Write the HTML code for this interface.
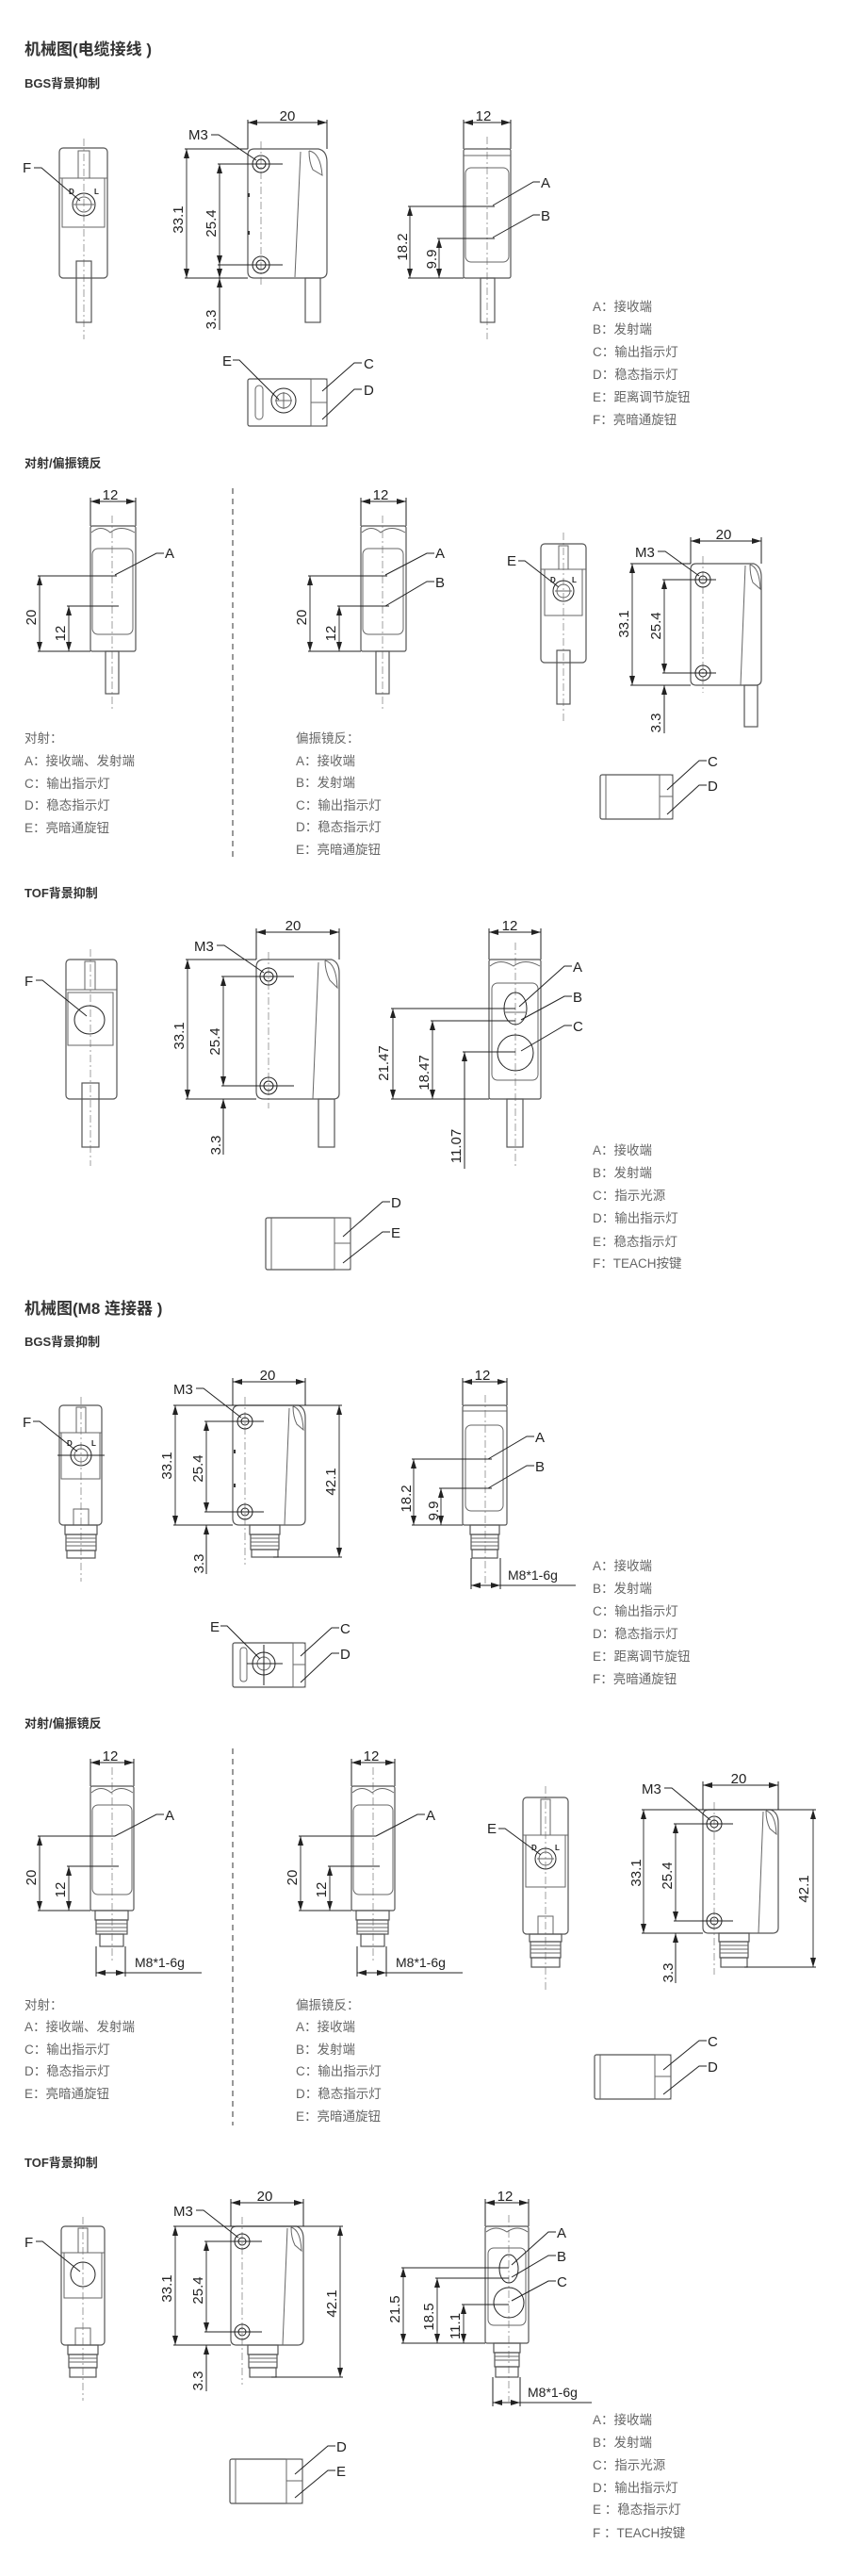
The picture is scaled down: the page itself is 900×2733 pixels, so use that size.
<!DOCTYPE html>
<html><head><meta charset="utf-8"><style>
html,body{margin:0;padding:0;background:#fff}
svg{display:block}
text{font-family:"Liberation Sans","Noto Sans CJK SC",sans-serif;fill:#222}
.t{font-size:17px;font-weight:bold;fill:#333}
.s{font-size:13px;font-weight:bold;fill:#333}
.d{font-size:15px}
.l{font-size:15px}
.g{font-size:13.5px;fill:#666}
.sm{font-size:8px;font-weight:bold}
.o{fill:none;stroke:#555;stroke-width:1.2}
.f{fill:none;stroke:#666;stroke-width:1}
.k{fill:none;stroke:#222;stroke-width:1}
.c{fill:none;stroke:#888;stroke-width:0.8;stroke-dasharray:8 3 2 3}
.dim{fill:none;stroke:#222;stroke-width:0.9;marker-start:url(#ar);marker-end:url(#ar)}
.dv{fill:none;stroke:#555;stroke-width:1.2;stroke-dasharray:6 5}
</style></head><body>
<svg width="900" height="2733" viewBox="0 0 900 2733" xmlns="http://www.w3.org/2000/svg">
<defs>
<marker id="ar" viewBox="0 0 10 6" refX="10" refY="3" markerWidth="10" markerHeight="6" markerUnits="userSpaceOnUse" orient="auto-start-reverse"><path d="M0,0 L10,3 L0,6 z" fill="#222"/></marker>
</defs>

<!-- ============ SECTION 1 ============ -->
<text class="t" x="26" y="58">机械图(电缆接线 )</text>
<text class="s" x="26" y="93">BGS背景抑制</text>

<!-- front view -->
<line class="c" x1="89" y1="147" x2="89" y2="360"/>
<rect class="o" x="63" y="157" width="51" height="138" rx="4"/>
<line class="f" x1="63" y1="189" x2="114" y2="189"/>
<rect class="f" x="83" y="160" width="12" height="29"/>
<rect class="f" x="66" y="189" width="45" height="52"/>
<circle class="k" cx="89" cy="217" r="12"/><circle class="f" cx="89" cy="217" r="8"/>
<line class="f" x1="78" y1="217" x2="100" y2="217"/>
<text class="sm" x="73" y="206">D</text><text class="sm" x="100" y="206">L</text>
<rect class="o" x="81" y="277" width="16" height="65"/>
<text class="l" x="24" y="183">F</text>
<polyline class="k" points="36,178 44,178 85,213"/>

<!-- side view -->
<line class="c" x1="277" y1="150" x2="277" y2="305"/>
<path class="o" d="M270,158 L338,158 Q347,160 347,172 L347,288 Q347,295 340,295 L270,295 Q263,295 263,288 L263,165 Q263,158 270,158 Z"/>
<path class="f" d="M319,161 L313,294"/><path class="f" d="M328,160 Q340,162 342,186 L332,180 Q328,172 328,160"/>
<circle class="k" cx="277" cy="174" r="9"/><circle class="k" cx="277" cy="174" r="5"/>
<circle class="k" cx="277" cy="281" r="9"/><circle class="k" cx="277" cy="281" r="5"/>
<rect x="263" y="205" width="2" height="4" fill="#333"/><rect x="263" y="245" width="2" height="4" fill="#333"/>
<rect class="o" x="324" y="295" width="16" height="47"/>
<line class="k" x1="263" y1="127" x2="263" y2="158"/><line class="k" x1="347" y1="127" x2="347" y2="158"/>
<line class="dim" x1="263" y1="130" x2="347" y2="130"/><text class="d" x="305" y="128" text-anchor="middle">20</text>
<text class="l" x="200" y="148">M3</text><polyline class="k" points="224,143 232,143 272,170"/>
<line class="k" x1="196" y1="158" x2="263" y2="158"/><line class="k" x1="196" y1="295" x2="263" y2="295"/>
<line class="dim" x1="198" y1="158" x2="198" y2="295"/>
<text class="d" transform="translate(194,233) rotate(-90)" text-anchor="middle">33.1</text>
<line class="k" x1="231" y1="174" x2="300" y2="174"/><line class="k" x1="231" y1="281" x2="300" y2="281"/>
<line class="dim" x1="233" y1="174" x2="233" y2="281"/>
<text class="d" transform="translate(229,237) rotate(-90)" text-anchor="middle">25.4</text>
<line class="k" x1="233" y1="295" x2="233" y2="350" marker-start="url(#ar)"/>
<line class="k" x1="233" y1="280" x2="233" y2="295" marker-end="url(#ar)"/>
<text class="d" transform="translate(229,339) rotate(-90)" text-anchor="middle">3.3</text>

<!-- right view -->
<line class="c" x1="517" y1="145" x2="517" y2="360"/>
<rect class="o" x="492" y="158" width="50" height="137" rx="2"/>
<line class="f" x1="492" y1="165" x2="542" y2="165"/>
<rect class="f" x="494" y="178" width="46" height="100" rx="6"/>
<rect class="o" x="510" y="295" width="15" height="47"/>
<line class="k" x1="492" y1="127" x2="492" y2="158"/><line class="k" x1="542" y1="127" x2="542" y2="158"/>
<line class="dim" x1="492" y1="130" x2="542" y2="130"/><text class="d" x="513" y="128" text-anchor="middle">12</text>
<text class="l" x="574" y="199">A</text><polyline class="k" points="573,193 566,193 523,218"/>
<text class="l" x="574" y="234">B</text><polyline class="k" points="573,228 566,228 523,252"/>
<line class="k" x1="433" y1="219" x2="525" y2="219"/><line class="k" x1="464" y1="253" x2="525" y2="253"/>
<line class="k" x1="433" y1="295" x2="492" y2="295"/>
<line class="dim" x1="435" y1="219" x2="435" y2="295"/>
<text class="d" transform="translate(432,262) rotate(-90)" text-anchor="middle">18.2</text>
<line class="dim" x1="466" y1="253" x2="466" y2="295"/>
<text class="d" transform="translate(463,275) rotate(-90)" text-anchor="middle">9.9</text>

<!-- bottom view -->
<rect class="o" x="263" y="402" width="84" height="50" rx="2"/>
<rect class="f" x="271" y="409" width="8" height="36" rx="4"/>
<circle class="k" cx="301" cy="425" r="13"/><circle class="f" cx="301" cy="425" r="8"/>
<line class="f" x1="292" y1="425" x2="310" y2="425"/><line class="f" x1="301" y1="416" x2="301" y2="434"/>
<rect class="f" x="330" y="402" width="17" height="25"/><rect class="f" x="330" y="427" width="17" height="25"/>
<text class="l" x="236" y="388">E</text><polyline class="k" points="247,382 254,382 296,424"/>
<text class="l" x="386" y="391">C</text><polyline class="k" points="384,385 376,385 342,415"/>
<text class="l" x="386" y="419">D</text><polyline class="k" points="384,413 376,413 342,445"/>

<g class="g">
<text class="g" x="629" y="330">A：接收端</text>
<text class="g" x="629" y="354">B：发射端</text>
<text class="g" x="629" y="378">C：输出指示灯</text>
<text class="g" x="629" y="402">D：稳态指示灯</text>
<text class="g" x="629" y="426">E：距离调节旋钮</text>
<text class="g" x="629" y="450">F：亮暗通旋钮</text>
</g>

<!-- ============ SECTION 2 ============ -->
<text class="s" x="26" y="496">对射/偏振镜反</text>
<line class="dv" x1="247" y1="518" x2="247" y2="912"/>

<!-- left view -->
<g>
<line class="c" x1="119" y1="547" x2="119" y2="753"/>
<rect class="o" x="96" y="558" width="48" height="133" rx="2"/>
<path class="f" d="M97,565 Q107,556 117,565 Q128,556 143,565"/>
<rect class="f" x="98" y="582" width="43" height="91" rx="6"/>
<rect class="o" x="112" y="691" width="14" height="45"/>
<line class="k" x1="96" y1="528" x2="96" y2="558"/><line class="k" x1="144" y1="528" x2="144" y2="558"/>
<line class="dim" x1="96" y1="532" x2="144" y2="532"/><text class="d" x="117" y="530" text-anchor="middle">12</text>
<text class="l" x="175" y="592">A</text><polyline class="k" points="174,587 166,587 122,610"/>
<line class="k" x1="40" y1="611" x2="124" y2="611"/><line class="k" x1="71" y1="643" x2="126" y2="643"/>
<line class="k" x1="40" y1="691" x2="96" y2="691"/>
<line class="dim" x1="42" y1="611" x2="42" y2="691"/>
<text class="d" transform="translate(38,655) rotate(-90)" text-anchor="middle">20</text>
<line class="dim" x1="73" y1="643" x2="73" y2="691"/>
<text class="d" transform="translate(69,672) rotate(-90)" text-anchor="middle">12</text>
</g>
<!-- middle view -->
<g transform="translate(287,0)">
<line class="c" x1="119" y1="547" x2="119" y2="753"/>
<rect class="o" x="96" y="558" width="48" height="133" rx="2"/>
<path class="f" d="M97,565 Q107,556 117,565 Q128,556 143,565"/>
<rect class="f" x="98" y="582" width="43" height="91" rx="6"/>
<rect class="o" x="112" y="691" width="14" height="45"/>
<line class="k" x1="96" y1="528" x2="96" y2="558"/><line class="k" x1="144" y1="528" x2="144" y2="558"/>
<line class="dim" x1="96" y1="532" x2="144" y2="532"/><text class="d" x="117" y="530" text-anchor="middle">12</text>
<text class="l" x="175" y="592">A</text><polyline class="k" points="174,587 166,587 122,610"/>
<text class="l" x="175" y="623">B</text><polyline class="k" points="174,617 166,617 122,643"/>
<line class="k" x1="40" y1="611" x2="124" y2="611"/><line class="k" x1="71" y1="643" x2="126" y2="643"/>
<line class="k" x1="40" y1="691" x2="96" y2="691"/>
<line class="dim" x1="42" y1="611" x2="42" y2="691"/>
<text class="d" transform="translate(38,655) rotate(-90)" text-anchor="middle">20</text>
<line class="dim" x1="73" y1="643" x2="73" y2="691"/>
<text class="d" transform="translate(69,672) rotate(-90)" text-anchor="middle">12</text>
</g>
<!-- small front view -->
<line class="c" x1="598" y1="565" x2="598" y2="765"/>
<rect class="o" x="574" y="577" width="48" height="126" rx="4"/>
<line class="f" x1="574" y1="604" x2="622" y2="604"/>
<rect class="f" x="593" y="579" width="10" height="25"/>
<rect class="f" x="578" y="604" width="40" height="49"/>
<circle class="k" cx="598" cy="627" r="11"/><circle class="f" cx="598" cy="627" r="7"/>
<line class="f" x1="589" y1="627" x2="607" y2="627"/>
<text class="sm" x="584" y="618">D</text><text class="sm" x="607" y="618">L</text>
<rect class="o" x="591" y="690" width="14" height="57"/>
<text class="l" x="538" y="600">E</text><polyline class="k" points="550,595 557,595 593,623"/>
<!-- side view -->
<line class="c" x1="746" y1="590" x2="746" y2="735"/>
<path class="o" d="M739,598 L800,598 Q808,601 808,612 L808,721 Q808,727 802,727 L739,727 Q733,727 733,721 L733,604 Q733,598 739,598 Z"/>
<path class="f" d="M791,600 L786,727"/><path class="f" d="M796,599 Q806,602 807,625 L799,618 Q796,610 796,599"/>
<circle class="k" cx="746" cy="615" r="8"/><circle class="k" cx="746" cy="615" r="4"/>
<circle class="k" cx="746" cy="714" r="8"/><circle class="k" cx="746" cy="714" r="4"/>
<rect class="o" x="790" y="727" width="14" height="44"/>
<line class="k" x1="733" y1="570" x2="733" y2="598"/><line class="k" x1="808" y1="570" x2="808" y2="598"/>
<line class="dim" x1="733" y1="574" x2="808" y2="574"/><text class="d" x="768" y="572" text-anchor="middle">20</text>
<text class="l" x="674" y="591">M3</text><polyline class="k" points="698,585 706,585 742,611"/>
<line class="k" x1="669" y1="598" x2="733" y2="598"/><line class="k" x1="669" y1="727" x2="733" y2="727"/>
<line class="dim" x1="671" y1="598" x2="671" y2="727"/>
<text class="d" transform="translate(667,662) rotate(-90)" text-anchor="middle">33.1</text>
<line class="k" x1="703" y1="615" x2="760" y2="615"/><line class="k" x1="703" y1="714" x2="760" y2="714"/>
<line class="dim" x1="705" y1="615" x2="705" y2="714"/>
<text class="d" transform="translate(701,664) rotate(-90)" text-anchor="middle">25.4</text>
<line class="k" x1="705" y1="727" x2="705" y2="778" marker-start="url(#ar)"/>
<text class="d" transform="translate(701,767) rotate(-90)" text-anchor="middle">3.3</text>
<!-- bottom view -->
<rect class="o" x="637" y="822" width="77" height="47" rx="2"/>
<line class="f" x1="643" y1="822" x2="643" y2="869"/>
<rect class="f" x="700" y="822" width="14" height="23"/><rect class="f" x="700" y="845" width="14" height="24"/>
<text class="l" x="751" y="813">C</text><polyline class="k" points="750,807 742,807 708,838"/>
<text class="l" x="751" y="839">D</text><polyline class="k" points="750,833 742,833 708,864"/>

<text class="g" x="26" y="788">对射：</text>
<text class="g" x="26" y="812">A：接收端、发射端</text>
<text class="g" x="26" y="836">C：输出指示灯</text>
<text class="g" x="26" y="859">D：稳态指示灯</text>
<text class="g" x="26" y="883">E：亮暗通旋钮</text>
<text class="g" x="314" y="788">偏振镜反：</text>
<text class="g" x="314" y="812">A：接收端</text>
<text class="g" x="314" y="835">B：发射端</text>
<text class="g" x="314" y="859">C：输出指示灯</text>
<text class="g" x="314" y="882">D：稳态指示灯</text>
<text class="g" x="314" y="906">E：亮暗通旋钮</text>

<!-- ============ SECTION 3 (TOF cable) ============ -->
<text class="s" x="26" y="952">TOF背景抑制</text>
<!-- front -->
<line class="c" x1="96" y1="1007" x2="96" y2="1237"/>
<rect class="o" x="70" y="1018" width="54" height="148" rx="4"/>
<line class="f" x1="70" y1="1050" x2="124" y2="1050"/>
<rect class="f" x="90" y="1020" width="11" height="30"/>
<rect class="f" x="72" y="1053" width="48" height="56"/>
<ellipse class="k" cx="95" cy="1082" rx="16" ry="15"/>
<rect class="o" x="87" y="1149" width="18" height="68"/>
<text class="l" x="26" y="1046">F</text><polyline class="k" points="38,1040 45,1040 92,1078"/>
<!-- side -->
<line class="c" x1="285" y1="1010" x2="285" y2="1176"/>
<path class="o" d="M280,1018 L352,1018 Q360,1021 360,1032 L360,1160 Q360,1166 354,1166 L280,1166 Q272,1166 272,1158 L272,1026 Q272,1018 280,1018 Z"/>
<path class="f" d="M338,1021 L332,1166"/><path class="f" d="M345,1019 Q357,1022 358,1048 L350,1040 Q345,1030 345,1019"/>
<circle class="k" cx="285" cy="1036" r="9"/><circle class="k" cx="285" cy="1036" r="5"/>
<circle class="k" cx="285" cy="1152" r="9"/><circle class="k" cx="285" cy="1152" r="5"/>
<rect class="o" x="338" y="1166" width="17" height="51"/>
<line class="k" x1="272" y1="985" x2="272" y2="1018"/><line class="k" x1="360" y1="985" x2="360" y2="1018"/>
<line class="dim" x1="272" y1="989" x2="360" y2="989"/><text class="d" x="311" y="987" text-anchor="middle">20</text>
<text class="l" x="206" y="1009">M3</text><polyline class="k" points="230,1003 238,1003 280,1032"/>
<line class="k" x1="197" y1="1018" x2="272" y2="1018"/><line class="k" x1="197" y1="1166" x2="272" y2="1166"/>
<line class="dim" x1="199" y1="1018" x2="199" y2="1166"/>
<text class="d" transform="translate(195,1099) rotate(-90)" text-anchor="middle">33.1</text>
<line class="k" x1="235" y1="1036" x2="312" y2="1036"/><line class="k" x1="235" y1="1152" x2="312" y2="1152"/>
<line class="dim" x1="237" y1="1036" x2="237" y2="1152"/>
<text class="d" transform="translate(233,1105) rotate(-90)" text-anchor="middle">25.4</text>
<line class="k" x1="237" y1="1166" x2="237" y2="1225" marker-start="url(#ar)"/>
<text class="d" transform="translate(234,1215) rotate(-90)" text-anchor="middle">3.3</text>
<!-- right -->
<line class="c" x1="547" y1="1000" x2="547" y2="1237"/>
<rect class="o" x="519" y="1018" width="55" height="148" rx="2"/>
<path class="f" d="M520,1025 Q531,1016 545,1025 Q557,1016 573,1025"/>
<rect class="f" x="522" y="1043" width="49" height="103" rx="6"/>
<ellipse class="k" cx="547" cy="1070" rx="12" ry="17"/><line class="f" x1="535" y1="1074" x2="559" y2="1074"/>
<circle class="k" cx="547" cy="1117" r="19"/>
<rect class="o" x="538" y="1166" width="17" height="51"/>
<line class="k" x1="519" y1="985" x2="519" y2="1018"/><line class="k" x1="574" y1="985" x2="574" y2="1018"/>
<line class="dim" x1="519" y1="989" x2="574" y2="989"/><text class="d" x="541" y="987" text-anchor="middle">12</text>
<text class="l" x="608" y="1031">A</text><polyline class="k" points="607,1025 599,1025 551,1068"/>
<text class="l" x="608" y="1063">B</text><polyline class="k" points="607,1057 599,1057 553,1082"/>
<text class="l" x="608" y="1094">C</text><polyline class="k" points="607,1088 599,1088 553,1115"/>
<line class="k" x1="415" y1="1070" x2="547" y2="1070"/><line class="k" x1="457" y1="1083" x2="547" y2="1083"/>
<line class="k" x1="491" y1="1116" x2="547" y2="1116"/><line class="k" x1="415" y1="1166" x2="519" y2="1166"/>
<line class="dim" x1="417" y1="1070" x2="417" y2="1166"/>
<text class="d" transform="translate(412,1128) rotate(-90)" text-anchor="middle">21.47</text>
<line class="dim" x1="459" y1="1083" x2="459" y2="1166"/>
<text class="d" transform="translate(455,1138) rotate(-90)" text-anchor="middle">18.47</text>
<line class="k" x1="493" y1="1116" x2="493" y2="1166" marker-start="url(#ar)"/>
<line class="k" x1="493" y1="1166" x2="493" y2="1240"/>
<text class="d" transform="translate(489,1216) rotate(-90)" text-anchor="middle">11.07</text>
<!-- bottom -->
<rect class="o" x="282" y="1292" width="90" height="55" rx="2"/>
<line class="f" x1="288" y1="1292" x2="288" y2="1347"/>
<rect class="f" x="355" y="1292" width="17" height="27"/><rect class="f" x="355" y="1319" width="17" height="28"/>
<text class="l" x="415" y="1281">D</text><polyline class="k" points="414,1275 406,1275 364,1312"/>
<text class="l" x="415" y="1313">E</text><polyline class="k" points="414,1307 406,1307 364,1340"/>

<text class="g" x="629" y="1225">A：接收端</text>
<text class="g" x="629" y="1249">B：发射端</text>
<text class="g" x="629" y="1273">C：指示光源</text>
<text class="g" x="629" y="1297">D：输出指示灯</text>
<text class="g" x="629" y="1322">E：稳态指示灯</text>
<text class="g" x="629" y="1345">F：TEACH按键</text>

<!-- ============ SECTION 4 (M8 BGS) ============ -->
<text class="t" x="26" y="1394">机械图(M8 连接器 )</text>
<text class="s" x="26" y="1428">BGS背景抑制</text>
<!-- front -->
<line class="c" x1="86" y1="1482" x2="86" y2="1678"/>
<rect class="o" x="63" y="1491" width="45" height="127" rx="4"/>
<line class="f" x1="63" y1="1520" x2="108" y2="1520"/>
<rect class="f" x="81" y="1493" width="10" height="27"/>
<rect class="f" x="65" y="1520" width="41" height="49"/>
<circle class="k" cx="86" cy="1544" r="11"/><circle class="f" cx="86" cy="1544" r="7"/>
<line class="k" x1="61" y1="1544" x2="111" y2="1544"/>
<text class="sm" x="71" y="1534">D</text><text class="sm" x="97" y="1534">L</text>
<rect class="f" x="78" y="1601" width="16" height="17"/>
<rect class="o" x="69" y="1618" width="34" height="10"/>
<rect class="o" x="70" y="1628" width="32" height="17"/>
<path class="f" d="M70,1632 H102 M70,1636 H102 M70,1640 H102"/>
<rect class="o" x="71" y="1645" width="30" height="8"/>
<text class="l" x="24" y="1514">F</text><polyline class="k" points="35,1508 42,1508 82,1540"/>
<!-- side -->
<line class="c" x1="260" y1="1482" x2="260" y2="1660"/>
<path class="o" d="M254,1491 L317,1491 Q324,1494 324,1504 L324,1612 Q324,1618 318,1618 L254,1618 Q247,1618 247,1611 L247,1498 Q247,1491 254,1491 Z"/>
<path class="f" d="M307,1494 L302,1618"/><path class="f" d="M311,1492 Q321,1495 322,1517 L315,1511 Q311,1503 311,1492"/>
<circle class="k" cx="260" cy="1508" r="8"/><circle class="k" cx="260" cy="1508" r="4"/>
<circle class="k" cx="260" cy="1604" r="8"/><circle class="k" cx="260" cy="1604" r="4"/>
<rect x="248" y="1538" width="2" height="4" fill="#333"/><rect x="248" y="1574" width="2" height="4" fill="#333"/>
<rect class="o" x="265" y="1618" width="32" height="10"/>
<rect class="o" x="266" y="1628" width="30" height="16"/>
<path class="f" d="M266,1632 H296 M266,1636 H296 M266,1640 H296"/>
<rect class="o" x="267" y="1644" width="28" height="8"/>
<line class="k" x1="247" y1="1462" x2="247" y2="1491"/><line class="k" x1="324" y1="1462" x2="324" y2="1491"/>
<line class="dim" x1="247" y1="1466" x2="324" y2="1466"/><text class="d" x="284" y="1464" text-anchor="middle">20</text>
<text class="l" x="184" y="1479">M3</text><polyline class="k" points="208,1473 216,1473 256,1504"/>
<line class="k" x1="184" y1="1491" x2="363" y2="1491"/><line class="k" x1="184" y1="1618" x2="247" y2="1618"/>
<line class="k" x1="290" y1="1652" x2="363" y2="1652"/>
<line class="dim" x1="186" y1="1491" x2="186" y2="1618"/>
<text class="d" transform="translate(182,1555) rotate(-90)" text-anchor="middle">33.1</text>
<line class="k" x1="217" y1="1508" x2="280" y2="1508"/><line class="k" x1="217" y1="1604" x2="280" y2="1604"/>
<line class="dim" x1="219" y1="1508" x2="219" y2="1604"/>
<text class="d" transform="translate(215,1558) rotate(-90)" text-anchor="middle">25.4</text>
<line class="dim" x1="360" y1="1491" x2="360" y2="1652"/>
<text class="d" transform="translate(356,1572) rotate(-90)" text-anchor="middle">42.1</text>
<line class="k" x1="219" y1="1618" x2="219" y2="1670" marker-start="url(#ar)"/>
<text class="d" transform="translate(216,1659) rotate(-90)" text-anchor="middle">3.3</text>
<!-- right -->
<line class="c" x1="515" y1="1480" x2="515" y2="1680"/>
<rect class="o" x="491" y="1491" width="47" height="127" rx="2"/>
<line class="f" x1="491" y1="1497" x2="538" y2="1497"/>
<rect class="f" x="494" y="1512" width="40" height="91" rx="6"/>
<rect class="o" x="499" y="1618" width="31" height="10"/>
<rect class="o" x="500" y="1628" width="29" height="16"/>
<path class="f" d="M500,1632 H529 M500,1636 H529 M500,1640 H529"/>
<rect class="o" x="501" y="1644" width="27" height="9"/>
<line class="k" x1="491" y1="1462" x2="491" y2="1491"/><line class="k" x1="538" y1="1462" x2="538" y2="1491"/>
<line class="dim" x1="491" y1="1466" x2="538" y2="1466"/><text class="d" x="512" y="1464" text-anchor="middle">12</text>
<text class="l" x="568" y="1530">A</text><polyline class="k" points="567,1524 559,1524 518,1548"/>
<text class="l" x="568" y="1561">B</text><polyline class="k" points="567,1555 559,1555 518,1579"/>
<line class="k" x1="437" y1="1548" x2="522" y2="1548"/><line class="k" x1="466" y1="1579" x2="522" y2="1579"/>
<line class="k" x1="437" y1="1618" x2="491" y2="1618"/>
<line class="dim" x1="439" y1="1548" x2="439" y2="1618"/>
<text class="d" transform="translate(436,1590) rotate(-90)" text-anchor="middle">18.2</text>
<line class="dim" x1="468" y1="1579" x2="468" y2="1618"/>
<text class="d" transform="translate(465,1603) rotate(-90)" text-anchor="middle">9.9</text>
<line class="k" x1="500" y1="1653" x2="500" y2="1686"/><line class="k" x1="531" y1="1653" x2="531" y2="1686"/>
<line class="k" x1="500" y1="1682" x2="531" y2="1682" marker-start="url(#ar)" marker-end="url(#ar)"/>
<line class="k" x1="531" y1="1682" x2="611" y2="1682"/>
<text class="l" x="539" y="1676" style="font-size:14px">M8*1-6g</text>
<!-- bottom -->
<rect class="o" x="247" y="1743" width="77" height="47" rx="2"/>
<rect class="f" x="255" y="1748" width="7" height="36" rx="3"/>
<circle class="k" cx="280" cy="1765" r="12"/><circle class="f" cx="280" cy="1765" r="7"/>
<line class="k" x1="262" y1="1765" x2="300" y2="1765"/><line class="k" x1="280" y1="1745" x2="280" y2="1788"/>
<rect class="f" x="311" y="1743" width="13" height="23"/><rect class="f" x="311" y="1766" width="13" height="24"/>
<text class="l" x="223" y="1731">E</text><polyline class="k" points="234,1725 241,1725 276,1760"/>
<text class="l" x="361" y="1733">C</text><polyline class="k" points="360,1727 352,1727 319,1757"/>
<text class="l" x="361" y="1760">D</text><polyline class="k" points="360,1754 352,1754 319,1785"/>

<text class="g" x="629" y="1666">A：接收端</text>
<text class="g" x="629" y="1690">B：发射端</text>
<text class="g" x="629" y="1714">C：输出指示灯</text>
<text class="g" x="629" y="1738">D：稳态指示灯</text>
<text class="g" x="629" y="1762">E：距离调节旋钮</text>
<text class="g" x="629" y="1786">F：亮暗通旋钮</text>

<!-- ============ SECTION 5 (M8 thru/polar) ============ -->
<text class="s" x="26" y="1833">对射/偏振镜反</text>
<line class="dv" x1="247" y1="1855" x2="247" y2="2255"/>
<g>
<line class="c" x1="119" y1="1875" x2="119" y2="2080"/>
<rect class="o" x="96" y="1895" width="46" height="132" rx="2"/>
<path class="f" d="M97,1902 Q107,1893 118,1902 Q128,1893 141,1902"/>
<rect class="f" x="98" y="1915" width="42" height="95" rx="6"/>
<rect class="o" x="101" y="2027" width="35" height="10"/>
<rect class="o" x="102" y="2037" width="33" height="15"/>
<path class="f" d="M102,2041 H135 M102,2045 H135 M102,2049 H135"/>
<rect class="o" x="106" y="2052" width="25" height="13"/>
<line class="k" x1="96" y1="1866" x2="96" y2="1895"/><line class="k" x1="142" y1="1866" x2="142" y2="1895"/>
<line class="dim" x1="96" y1="1870" x2="142" y2="1870"/><text class="d" x="117" y="1868" text-anchor="middle">12</text>
<text class="l" x="175" y="1931">A</text><polyline class="k" points="174,1925 166,1925 122,1948"/>
<line class="k" x1="40" y1="1948" x2="122" y2="1948"/><line class="k" x1="71" y1="1980" x2="126" y2="1980"/>
<line class="k" x1="40" y1="2027" x2="96" y2="2027"/>
<line class="dim" x1="42" y1="1948" x2="42" y2="2027"/>
<text class="d" transform="translate(38,1992) rotate(-90)" text-anchor="middle">20</text>
<line class="dim" x1="73" y1="1980" x2="73" y2="2027"/>
<text class="d" transform="translate(69,2005) rotate(-90)" text-anchor="middle">12</text>
<line class="k" x1="102" y1="2065" x2="102" y2="2097"/><line class="k" x1="133" y1="2065" x2="133" y2="2097"/>
<line class="k" x1="102" y1="2093" x2="133" y2="2093" marker-start="url(#ar)" marker-end="url(#ar)"/>
<line class="k" x1="133" y1="2093" x2="214" y2="2093"/>
<text class="l" x="143" y="2087" style="font-size:14px">M8*1-6g</text>
</g>
<g transform="translate(277,0)">
<line class="c" x1="119" y1="1875" x2="119" y2="2080"/>
<rect class="o" x="96" y="1895" width="46" height="132" rx="2"/>
<path class="f" d="M97,1902 Q107,1893 118,1902 Q128,1893 141,1902"/>
<rect class="f" x="98" y="1915" width="42" height="95" rx="6"/>
<rect class="o" x="101" y="2027" width="35" height="10"/>
<rect class="o" x="102" y="2037" width="33" height="15"/>
<path class="f" d="M102,2041 H135 M102,2045 H135 M102,2049 H135"/>
<rect class="o" x="106" y="2052" width="25" height="13"/>
<line class="k" x1="96" y1="1866" x2="96" y2="1895"/><line class="k" x1="142" y1="1866" x2="142" y2="1895"/>
<line class="dim" x1="96" y1="1870" x2="142" y2="1870"/><text class="d" x="117" y="1868" text-anchor="middle">12</text>
<text class="l" x="175" y="1931">A</text><polyline class="k" points="174,1925 166,1925 122,1948"/>
<line class="k" x1="40" y1="1948" x2="122" y2="1948"/><line class="k" x1="71" y1="1980" x2="126" y2="1980"/>
<line class="k" x1="40" y1="2027" x2="96" y2="2027"/>
<line class="dim" x1="42" y1="1948" x2="42" y2="2027"/>
<text class="d" transform="translate(38,1992) rotate(-90)" text-anchor="middle">20</text>
<line class="dim" x1="73" y1="1980" x2="73" y2="2027"/>
<text class="d" transform="translate(69,2005) rotate(-90)" text-anchor="middle">12</text>
<line class="k" x1="102" y1="2065" x2="102" y2="2097"/><line class="k" x1="133" y1="2065" x2="133" y2="2097"/>
<line class="k" x1="102" y1="2093" x2="133" y2="2093" marker-start="url(#ar)" marker-end="url(#ar)"/>
<line class="k" x1="133" y1="2093" x2="214" y2="2093"/>
<text class="l" x="143" y="2087" style="font-size:14px">M8*1-6g</text>
</g>
<!-- small front -->
<line class="c" x1="579" y1="1895" x2="579" y2="2113"/>
<rect class="o" x="555" y="1907" width="48" height="145" rx="4"/>
<line class="f" x1="555" y1="1947" x2="603" y2="1947"/>
<rect class="f" x="574" y="1909" width="10" height="38"/>
<rect class="f" x="558" y="1947" width="42" height="55"/>
<circle class="k" cx="579" cy="1972" r="11"/><circle class="f" cx="579" cy="1972" r="7"/>
<line class="f" x1="570" y1="1972" x2="588" y2="1972"/>
<text class="sm" x="564" y="1963">D</text><text class="sm" x="589" y="1963">L</text>
<rect class="f" x="571" y="2033" width="16" height="19"/>
<rect class="o" x="562" y="2052" width="34" height="8"/>
<rect class="o" x="563" y="2060" width="32" height="17"/>
<path class="f" d="M563,2064 H595 M563,2068 H595 M563,2072 H595"/>
<rect class="o" x="564" y="2077" width="30" height="10"/>
<text class="l" x="517" y="1945">E</text><polyline class="k" points="529,1940 536,1940 574,1968"/>
<!-- side -->
<line class="c" x1="758" y1="1912" x2="758" y2="2095"/>
<path class="o" d="M752,1920 L818,1920 Q826,1923 826,1934 L826,2045 Q826,2051 820,2051 L752,2051 Q746,2051 746,2045 L746,1926 Q746,1920 752,1920 Z"/>
<path class="f" d="M810,1922 L805,2051"/><path class="f" d="M813,1921 Q823,1924 824,1946 L817,1940 Q813,1932 813,1921"/>
<circle class="k" cx="758" cy="1935" r="8"/><circle class="k" cx="758" cy="1935" r="4"/>
<circle class="k" cx="758" cy="2038" r="8"/><circle class="k" cx="758" cy="2038" r="4"/>
<rect class="o" x="763" y="2051" width="32" height="9"/>
<rect class="o" x="764" y="2060" width="30" height="17"/>
<path class="f" d="M764,2064 H794 M764,2068 H794 M764,2072 H794"/>
<rect class="o" x="765" y="2077" width="28" height="10"/>
<line class="k" x1="746" y1="1890" x2="746" y2="1920"/><line class="k" x1="826" y1="1890" x2="826" y2="1920"/>
<line class="dim" x1="746" y1="1894" x2="826" y2="1894"/><text class="d" x="784" y="1892" text-anchor="middle">20</text>
<text class="l" x="681" y="1903">M3</text><polyline class="k" points="705,1897 713,1897 754,1931"/>
<line class="k" x1="681" y1="1920" x2="866" y2="1920"/><line class="k" x1="681" y1="2051" x2="746" y2="2051"/>
<line class="k" x1="790" y1="2087" x2="866" y2="2087"/>
<line class="dim" x1="683" y1="1920" x2="683" y2="2051"/>
<text class="d" transform="translate(680,1987) rotate(-90)" text-anchor="middle">33.1</text>
<line class="k" x1="715" y1="1935" x2="778" y2="1935"/><line class="k" x1="715" y1="2038" x2="778" y2="2038"/>
<line class="dim" x1="717" y1="1935" x2="717" y2="2038"/>
<text class="d" transform="translate(713,1990) rotate(-90)" text-anchor="middle">25.4</text>
<line class="dim" x1="863" y1="1920" x2="863" y2="2087"/>
<text class="d" transform="translate(858,2004) rotate(-90)" text-anchor="middle">42.1</text>
<line class="k" x1="717" y1="2051" x2="717" y2="2104" marker-start="url(#ar)"/>
<text class="d" transform="translate(714,2093) rotate(-90)" text-anchor="middle">3.3</text>
<!-- bottom -->
<rect class="o" x="631" y="2180" width="81" height="47" rx="2"/>
<line class="f" x1="637" y1="2180" x2="637" y2="2227"/>
<rect class="f" x="695" y="2180" width="17" height="23"/><rect class="f" x="695" y="2203" width="17" height="24"/>
<text class="l" x="751" y="2171">C</text><polyline class="k" points="750,2165 742,2165 704,2196"/>
<text class="l" x="751" y="2198">D</text><polyline class="k" points="750,2192 742,2192 704,2222"/>

<text class="g" x="26" y="2132">对射：</text>
<text class="g" x="26" y="2155">A：接收端、发射端</text>
<text class="g" x="26" y="2179">C：输出指示灯</text>
<text class="g" x="26" y="2202">D：稳态指示灯</text>
<text class="g" x="26" y="2226">E：亮暗通旋钮</text>
<text class="g" x="314" y="2132">偏振镜反：</text>
<text class="g" x="314" y="2155">A：接收端</text>
<text class="g" x="314" y="2179">B：发射端</text>
<text class="g" x="314" y="2202">C：输出指示灯</text>
<text class="g" x="314" y="2226">D：稳态指示灯</text>
<text class="g" x="314" y="2250">E：亮暗通旋钮</text>

<!-- ============ SECTION 6 (M8 TOF) ============ -->
<text class="s" x="26" y="2299">TOF背景抑制</text>
<!-- front -->
<line class="c" x1="88" y1="2352" x2="88" y2="2547"/>
<rect class="o" x="65" y="2362" width="46" height="126" rx="4"/>
<line class="f" x1="65" y1="2390" x2="111" y2="2390"/>
<rect class="f" x="83" y="2364" width="10" height="26"/>
<rect class="f" x="68" y="2390" width="40" height="48"/>
<circle class="k" cx="88" cy="2413" r="13"/>
<rect class="f" x="80" y="2470" width="16" height="18"/>
<rect class="o" x="72" y="2488" width="32" height="10"/>
<rect class="o" x="73" y="2498" width="30" height="14"/>
<path class="f" d="M73,2502 H103 M73,2506 H103"/>
<rect class="o" x="74" y="2512" width="28" height="10"/>
<text class="l" x="26" y="2384">F</text><polyline class="k" points="38,2378 45,2378 85,2410"/>
<!-- side -->
<line class="c" x1="257" y1="2352" x2="257" y2="2530"/>
<path class="o" d="M251,2362 L315,2362 Q322,2365 322,2375 L322,2482 Q322,2488 316,2488 L251,2488 Q245,2488 245,2482 L245,2368 Q245,2362 251,2362 Z"/>
<path class="f" d="M305,2364 L300,2488"/><path class="f" d="M309,2363 Q319,2366 320,2388 L313,2382 Q309,2374 309,2363"/>
<circle class="k" cx="257" cy="2378" r="8"/><circle class="k" cx="257" cy="2378" r="4"/>
<circle class="k" cx="257" cy="2474" r="8"/><circle class="k" cx="257" cy="2474" r="4"/>
<rect class="o" x="263" y="2488" width="32" height="10"/>
<rect class="o" x="264" y="2498" width="30" height="14"/>
<path class="f" d="M264,2502 H294 M264,2506 H294"/>
<rect class="o" x="265" y="2512" width="28" height="10"/>
<line class="k" x1="245" y1="2333" x2="245" y2="2362"/><line class="k" x1="322" y1="2333" x2="322" y2="2362"/>
<line class="dim" x1="245" y1="2337" x2="322" y2="2337"/><text class="d" x="281" y="2335" text-anchor="middle">20</text>
<text class="l" x="184" y="2351">M3</text><polyline class="k" points="208,2345 216,2345 253,2374"/>
<line class="k" x1="184" y1="2362" x2="364" y2="2362"/><line class="k" x1="184" y1="2488" x2="245" y2="2488"/>
<line class="k" x1="288" y1="2522" x2="364" y2="2522"/>
<line class="dim" x1="186" y1="2362" x2="186" y2="2488"/>
<text class="d" transform="translate(182,2428) rotate(-90)" text-anchor="middle">33.1</text>
<line class="k" x1="217" y1="2378" x2="278" y2="2378"/><line class="k" x1="217" y1="2474" x2="278" y2="2474"/>
<line class="dim" x1="219" y1="2378" x2="219" y2="2474"/>
<text class="d" transform="translate(215,2430) rotate(-90)" text-anchor="middle">25.4</text>
<line class="dim" x1="361" y1="2362" x2="361" y2="2522"/>
<text class="d" transform="translate(357,2444) rotate(-90)" text-anchor="middle">42.1</text>
<line class="k" x1="219" y1="2488" x2="219" y2="2537" marker-start="url(#ar)"/>
<text class="d" transform="translate(215,2526) rotate(-90)" text-anchor="middle">3.3</text>
<!-- right -->
<line class="c" x1="540" y1="2350" x2="540" y2="2548"/>
<rect class="o" x="515" y="2362" width="46" height="124" rx="2"/>
<path class="f" d="M516,2368 Q526,2360 538,2368 Q549,2360 560,2368"/>
<rect class="f" x="518" y="2385" width="40" height="82" rx="6"/>
<ellipse class="k" cx="540" cy="2407" rx="10" ry="15"/>
<circle class="k" cx="540" cy="2443" r="16"/>
<rect class="o" x="524" y="2486" width="28" height="10"/>
<rect class="o" x="525" y="2496" width="26" height="15"/>
<path class="f" d="M525,2500 H551 M525,2504 H551"/>
<rect class="o" x="526" y="2511" width="24" height="11"/>
<line class="k" x1="515" y1="2333" x2="515" y2="2362"/><line class="k" x1="561" y1="2333" x2="561" y2="2362"/>
<line class="dim" x1="515" y1="2337" x2="561" y2="2337"/><text class="d" x="536" y="2335" text-anchor="middle">12</text>
<text class="l" x="591" y="2374">A</text><polyline class="k" points="590,2368 582,2368 543,2403"/>
<text class="l" x="591" y="2399">B</text><polyline class="k" points="590,2393 582,2393 543,2416"/>
<text class="l" x="591" y="2426">C</text><polyline class="k" points="590,2420 582,2420 543,2441"/>
<line class="k" x1="426" y1="2406" x2="540" y2="2406"/><line class="k" x1="462" y1="2417" x2="540" y2="2417"/>
<line class="k" x1="490" y1="2445" x2="540" y2="2445"/><line class="k" x1="426" y1="2486" x2="515" y2="2486"/>
<line class="dim" x1="428" y1="2406" x2="428" y2="2486"/>
<text class="d" transform="translate(424,2450) rotate(-90)" text-anchor="middle">21.5</text>
<line class="dim" x1="464" y1="2417" x2="464" y2="2486"/>
<text class="d" transform="translate(460,2458) rotate(-90)" text-anchor="middle">18.5</text>
<line class="dim" x1="492" y1="2445" x2="492" y2="2486"/>
<text class="d" transform="translate(488,2468) rotate(-90)" text-anchor="middle">11.1</text>
<line class="k" x1="523" y1="2522" x2="523" y2="2553"/><line class="k" x1="552" y1="2522" x2="552" y2="2553"/>
<line class="k" x1="523" y1="2549" x2="552" y2="2549" marker-start="url(#ar)" marker-end="url(#ar)"/>
<line class="k" x1="552" y1="2549" x2="628" y2="2549"/>
<text class="l" x="560" y="2543" style="font-size:14px">M8*1-6g</text>
<!-- bottom -->
<rect class="o" x="244" y="2609" width="77" height="47" rx="2"/>
<line class="f" x1="250" y1="2609" x2="250" y2="2656"/>
<rect class="f" x="304" y="2609" width="17" height="23"/><rect class="f" x="304" y="2632" width="17" height="24"/>
<text class="l" x="357" y="2601">D</text><polyline class="k" points="356,2595 348,2595 313,2625"/>
<text class="l" x="357" y="2627">E</text><polyline class="k" points="356,2621 348,2621 313,2650"/>

<text class="g" x="629" y="2572">A：接收端</text>
<text class="g" x="629" y="2596">B：发射端</text>
<text class="g" x="629" y="2620">C：指示光源</text>
<text class="g" x="629" y="2644">D：输出指示灯</text>
<text class="g" x="629" y="2667">E ：稳态指示灯</text>
<text class="g" x="629" y="2692">F ：TEACH按键</text>
</svg>
</body></html>
